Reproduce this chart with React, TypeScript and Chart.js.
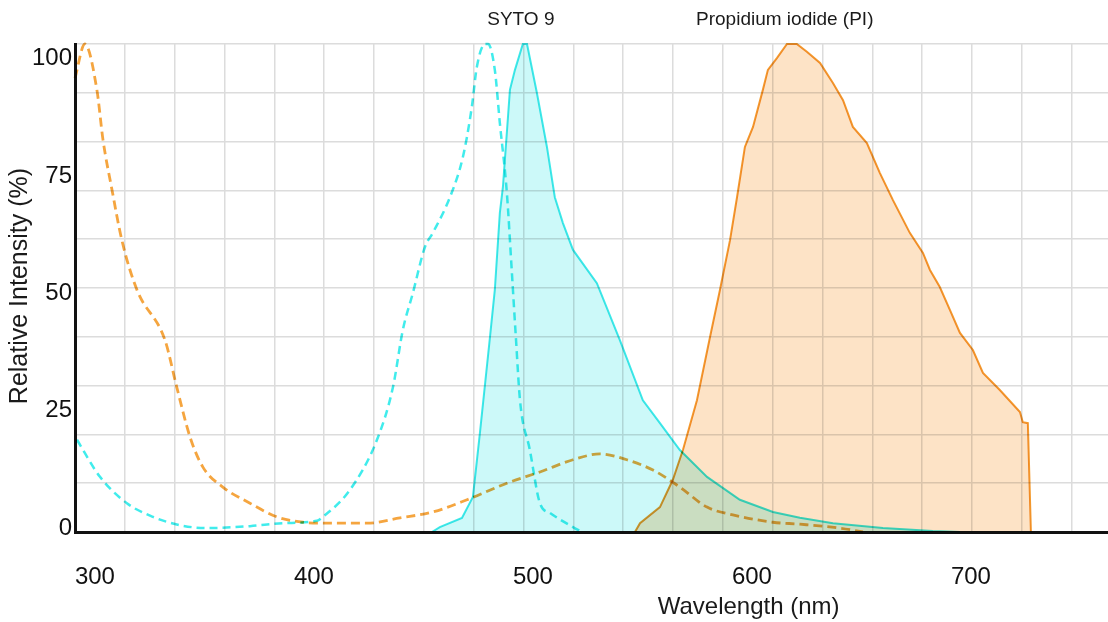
import React, { useEffect, useRef } from 'react';
import { Chart, registerables } from 'chart.js';

Chart.register(...registerables);

// Axis ranges / tick labels
const X_MIN = 290.9;
const X_MAX = 762.6;
const xTickLabels = [300, 400, 500, 600, 700];
const yTickLabels = [0, 25, 50, 75, 100];

// Dye labels at the top (centered at wavelength)
const dyeNames = ['SYTO 9', 'Propidium iodide (PI)'];
const dyeNameAt = [494.5, 615];

// PI excitation (dashed orange)
const piExWl = [290.9, 295.4, 300.9, 303.7, 307.8, 312.3, 319.2, 332.0, 337.3, 343.4, 349.3, 358.4, 370.8, 383.1, 395.0, 405.9, 424.2, 439.3, 454.3, 469.9, 488.1, 503.2, 518.3, 530.6, 542.9, 554.8, 567.1, 579.5, 591.3, 609.6, 621.9, 640.2, 650.7];
const piExVal = [93, 100, 90.6, 80.3, 70.1, 59.8, 49.6, 39.3, 29.8, 19.5, 13.3, 9.2, 5.9, 3.1, 2.0, 1.8, 1.8, 2.9, 4.1, 6.6, 10.0, 12.3, 14.8, 16.0, 14.8, 12.7, 9.2, 5.1, 3.5, 2.0, 1.6, 0.8, 0];

// SYTO 9 excitation (dashed cyan)
const sytoExWl = [291.8, 302.3, 314.6, 326.5, 338.8, 351.1, 370.8, 385.8, 401.4, 404.1, 416.4, 428.8, 436.1, 440.6, 445.2, 450.7, 454.3, 462.1, 468.0, 472.1, 474.4, 478.1, 479.5, 482.6, 484.9, 488.1, 490.4, 492.2, 494.1, 498.6, 503.2, 507.8, 518.3, 522.4];
const sytoExVal = [18.9, 11.3, 5.9, 3.1, 1.4, 0.8, 1.2, 1.8, 2.3, 3.1, 8.6, 18.9, 29.7, 41.4, 49.0, 58.4, 61.3, 68.6, 76.8, 87.1, 95.3, 100, 100, 94.7, 83.8, 69.5, 53.1, 40.0, 27.0, 16.8, 5.9, 3.9, 1.0, 0];

// SYTO 9 emission (solid cyan, filled)
const sytoEmWl = [453.9, 457.5, 467.6, 472.6, 475.8, 480.4, 482.6, 484.9, 486.3, 489.5, 491.8, 495.4, 497.3, 501.8, 506.4, 510.0, 513.7, 518.3, 529.2, 539.7, 550.2, 558.0, 567.1, 579.5, 594.5, 609.6, 621.9, 637.0, 659.8, 682.6, 695.0];
const sytoEmVal = [0, 1.0, 2.9, 7.2, 20.3, 40.0, 49.6, 65.4, 70.7, 90.6, 94.7, 100, 100, 90.0, 78.9, 68.6, 63.3, 57.8, 51.0, 39.3, 27.0, 22.3, 16.8, 11.3, 6.6, 4.1, 2.9, 1.8, 0.8, 0.2, 0];

// PI emission (solid orange, filled)
const piEmWl = [546.6, 548.9, 558.0, 563.9, 568.5, 574.9, 580.8, 585.4, 590.0, 593.2, 596.8, 600.5, 605.0, 607.3, 611.4, 616.0, 620.5, 625.1, 631.1, 637.0, 641.6, 646.1, 652.5, 658.4, 664.4, 672.1, 678.1, 681.3, 685.8, 690.4, 695.0, 700.9, 705.5, 713.2, 722.4, 723.7, 726.0, 727.4];
const piEmVal = [0, 1.8, 5.1, 10.7, 16.8, 27.0, 39.8, 49.6, 59.8, 68.6, 78.9, 83.0, 90.6, 94.7, 97.1, 100, 100, 98.4, 96.1, 92.0, 88.5, 83.0, 79.7, 73.6, 68.0, 61.3, 57.2, 53.7, 50.2, 45.5, 40.8, 37.3, 32.6, 29.1, 24.6, 22.5, 22.3, 0];

const toPts = (xs: number[], ys: number[]) => xs.map((x, i) => ({ x, y: ys[i] }));

const FONT = '"Liberation Sans", Arial, Helvetica, sans-serif';

export default function App() {
  const ref = useRef<HTMLCanvasElement>(null);

  useEffect(() => {
    const canvas = ref.current;
    if (!canvas) return;

    const bgPlugin = {
      id: 'bg',
      beforeDraw(chart: any) {
        const { ctx, width, height } = chart;
        ctx.save();
        ctx.fillStyle = '#ffffff';
        ctx.fillRect(0, 0, width, height);
        ctx.restore();
      },
    };

    const blendPlugin = {
      id: 'blend',
      beforeDatasetsDraw(chart: any) {
        chart.ctx.save();
        chart.ctx.globalCompositeOperation = 'multiply';
      },
      afterDatasetsDraw(chart: any) {
        chart.ctx.restore();
      },
    };

    const textPlugin = {
      id: 'texts',
      afterDraw(chart: any) {
        const { ctx, scales } = chart;
        const x = scales.x;
        const y = scales.y;
        ctx.save();
        ctx.fillStyle = '#1a1a1a';
        ctx.textAlign = 'center';
        ctx.textBaseline = 'middle';
        ctx.font = `24px ${FONT}`;
        ctx.fillText('Wavelength (nm)', x.getPixelForValue(598.5), 607);
        ctx.save();
        ctx.font = `25px ${FONT}`;
        ctx.translate(20, y.getPixelForValue(50.4));
        ctx.rotate(-Math.PI / 2);
        ctx.fillText('Relative Intensity (%)', 0, 0);
        ctx.restore();
        ctx.font = `19px ${FONT}`;
        dyeNames.forEach((n, i) => {
          ctx.fillText(n, x.getPixelForValue(dyeNameAt[i]), 20);
        });
        ctx.restore();
      },
    };

    const chart = new Chart(canvas, {
      type: 'line',
      data: {
        datasets: [
          {
            label: 'SYTO 9 Em',
            data: toPts(sytoEmWl, sytoEmVal),
            borderColor: '#3fe9ea',
            backgroundColor: '#ccf9f9',
            borderWidth: 2,
            fill: 'origin',
            pointRadius: 0,
            tension: 0,
            clip: false,
          },
          {
            label: 'PI Em',
            data: toPts(piEmWl, piEmVal),
            borderColor: '#f39a2e',
            backgroundColor: '#fde3c6',
            borderWidth: 2,
            fill: 'origin',
            pointRadius: 0,
            tension: 0,
            clip: false,
          },
          {
            label: 'SYTO 9 Ex',
            data: toPts(sytoExWl, sytoExVal),
            borderColor: '#40ecec',
            borderWidth: 2.5,
            borderDash: [8, 5],
            fill: false,
            pointRadius: 0,
            cubicInterpolationMode: 'monotone',
            clip: false,
          },
          {
            label: 'PI Ex',
            data: toPts(piExWl, piExVal),
            borderColor: '#f5a53f',
            borderWidth: 2.8,
            borderDash: [9, 5],
            fill: false,
            pointRadius: 0,
            cubicInterpolationMode: 'monotone',
            clip: false,
          },
        ],
      },
      options: {
        responsive: false,
        animation: false,
        events: [],
        layout: { padding: { top: 44, right: 0, left: 0, bottom: 0 } },
        plugins: {
          legend: { display: false },
          tooltip: { enabled: false },
          title: { display: false },
        },
        scales: {
          x: {
            type: 'linear',
            position: 'bottom',
            min: X_MIN,
            max: X_MAX,
            grid: { display: false, drawTicks: false },
            border: { display: true, color: '#111111', width: 3 },
            afterBuildTicks: (axis: any) => {
              axis.ticks = xTickLabels.map((v) => ({ value: v }));
            },
            ticks: {
              padding: 31,
              color: '#111111',
              font: { family: FONT, size: 24 },
              maxRotation: 0,
              autoSkip: false,
            },
            afterFit: (axis: any) => {
              axis.height = 90;
            },
          },
          xgrid: {
            type: 'linear',
            position: 'bottom',
            min: 0,
            max: 20.73,
            grid: { display: true, color: '#dcdcdc', lineWidth: 1.5, drawTicks: false },
            border: { display: false },
            ticks: { display: false, stepSize: 1, includeBounds: false },
            afterFit: (axis: any) => {
              axis.height = 0;
            },
          },
          ygrid: {
            type: 'linear',
            position: 'left',
            min: 0,
            max: 100,
            grid: { display: true, color: '#dcdcdc', lineWidth: 1.5, drawTicks: false },
            border: { display: false },
            ticks: { display: false, stepSize: 10 },
            afterFit: (axis: any) => {
              axis.width = 0;
            },
          },
          y: {
            type: 'linear',
            position: 'left',
            min: 0,
            max: 100,
            display: false,
          },
          ylabels: {
            type: 'linear',
            position: 'left',
            min: -0.85,
            max: 103.1,
            grid: { display: false, drawTicks: false },
            border: { display: true, color: '#111111', width: 3 },
            afterBuildTicks: (axis: any) => {
              axis.ticks = yTickLabels.map((v) => ({ value: v }));
            },
            ticks: {
              padding: 3,
              color: '#111111',
              font: { family: FONT, size: 24 },
              autoSkip: false,
            },
            afterFit: (axis: any) => {
              axis.width = 75;
            },
          },
        },
      },
      plugins: [bgPlugin, blendPlugin, textPlugin],
    } as any);

    return () => chart.destroy();
  }, []);

  return (
    <div style={{ position: 'absolute', left: 0, top: 0, width: 1108, height: 622 }}>
      <canvas ref={ref} width={1108} height={622} />
    </div>
  );
}
